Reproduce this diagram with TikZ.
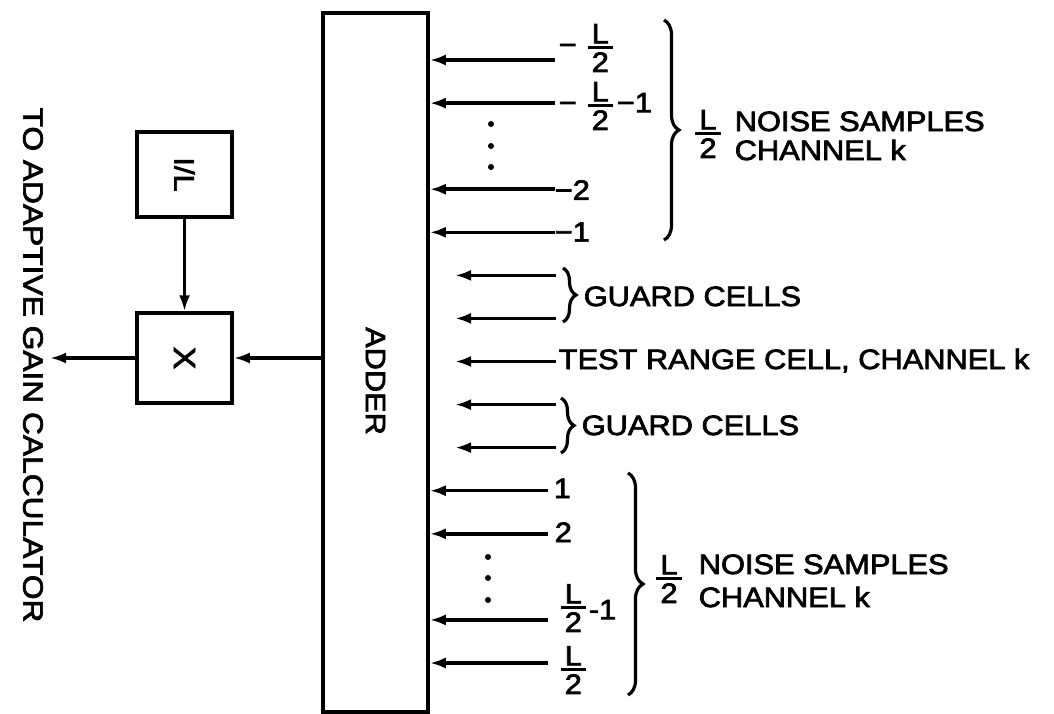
\documentclass[tikz,border=0pt]{standalone}
\usepackage{fontspec}
\setmainfont{Liberation Sans}[FakeStretch=1.1,FakeBold=2.5]
\usetikzlibrary{arrows.meta,decorations.pathreplacing}
\newcommand{\fs}{\fontsize{28pt}{30pt}\selectfont}
\newcommand{\fr}[2]{$\vcenter{\offinterlineskip\halign{\kern4pt\hfil##\hfil\kern4pt\cr #1\cr\noalign{\kern2.5pt\hrule height 3pt\kern3.5pt}#2\cr}}$}
\begin{document}
\begin{tikzpicture}[x=1pt,y=-1pt,line width=3.5pt,
  every node/.style={font=\fs, inner sep=0pt},
  box/.style={draw, rectangle, line width=3.5pt},
  arr/.style={line width=3.5pt, -{Latex[length=16pt,width=11pt]}},
  brc/.style={line width=3.2pt, decorate, decoration={brace, amplitude=#1}},
  brc/.default=13pt]
\useasboundingbox (0,0) rectangle (1054,713);
% blocks
\node[box, minimum width=105pt, minimum height=699pt] (adder) at (375.5,362.5) {};
\node[rotate=-90] (adderlbl) at (375.5,381) {ADDER};
\node[box, minimum width=95pt, minimum height=85pt] (inv) at (184.5,174.5) {};
\node[rotate=-90] (invlbl) at (inv.center) {I/L};
\node[box, minimum width=95pt, minimum height=90pt] (mul) at (184.5,358) {};
\node[rotate=-90, scale=1.1] (mullbl) at (mul.center) {X};
\coordinate (out) at (50,358);
\node[rotate=-90, xscale=1.03] (tag) at (33,365) {TO ADAPTIVE GAIN CALCULATOR};
\draw[arr] (inv.south) -- (mul.north);
\draw[arr] (adder.west |- mul.east) -- (mul.east);
\draw[arr] (mul.west) -- (out);
% top noise samples
\coordinate (t0) at (555,60);
\coordinate (t1) at (555,103.1);
\coordinate (t3) at (555,189.2);
\coordinate (t4) at (555,232.3);
\foreach \t in {t0,t1,t3,t4} \draw[arr] (\t) -- (\t -| adder.east);
\node[anchor=west] (l0) at (557,48) {−\hspace{11pt}\fr{L}{2}};
\node[anchor=west] (l1) at (557,106) {−\hspace{11pt}\fr{L}{2}\hspace{4pt}−1};
\node[anchor=west] (l3) at (553,190) {−2};
\node[anchor=west] (l4) at (553,232) {−1};
\fill (491,124) circle (3pt) (491,146) circle (3pt) (491,167) circle (3pt);
\draw[brc=15pt] (664,20) -- (664,240);
\node (f1) at (708,134) {\fr{L}{2}};
\node[anchor=base west] (n1a) at (733,131) {NOISE SAMPLES};
\node[anchor=base west] (n1b) at (733,160) {CHANNEL k};
% guard and test
\coordinate (g1) at (556,275.4);
\coordinate (g2) at (556,318.4);
\coordinate (tc) at (556,361.5);
\coordinate (g3) at (556,404.6);
\coordinate (g4) at (556,447.6);
\foreach \t in {g1,g2,tc,g3,g4} \draw[arr] (\t) -- ++(-101,0);
\draw[brc=13pt] (563,268) -- (563,322);
\node[anchor=base west] (gc1) at (582,306) {GUARD CELLS};
\node[anchor=base west] (test) at (557,369) {TEST RANGE CELL, CHANNEL k};
\draw[brc=13pt] (561,398) -- (561,453);
\node[anchor=base west] (gc2) at (580,435) {GUARD CELLS};
% bottom noise samples
\coordinate (b10) at (548,490.7);
\coordinate (b11) at (548,533.8);
\coordinate (b13) at (548,619.9);
\coordinate (b14) at (548,663);
\foreach \t in {b10,b11,b13,b14} \draw[arr] (\t) -- (\t -| adder.east);
\node[anchor=base west] (l10) at (552,498) {1};
\node[anchor=base west] (l11) at (553,542) {2};
\node[anchor=west] (l13) at (559,608) {\fr{L}{2}\hspace{3pt}\raisebox{-5pt}{-1}};
\node[anchor=west] (l14) at (559,670) {\fr{L}{2}};
\fill (488,557) circle (3pt) (488,578) circle (3pt) (488,600) circle (3pt);
\draw[brc=15pt] (628,473) -- (628,695);
\node (f2) at (669,579) {\fr{L}{2}};
\node[anchor=base west] (n2a) at (697,574) {NOISE SAMPLES};
\node[anchor=base west] (n2b) at (697,607) {CHANNEL k};
\end{tikzpicture}
\end{document}
